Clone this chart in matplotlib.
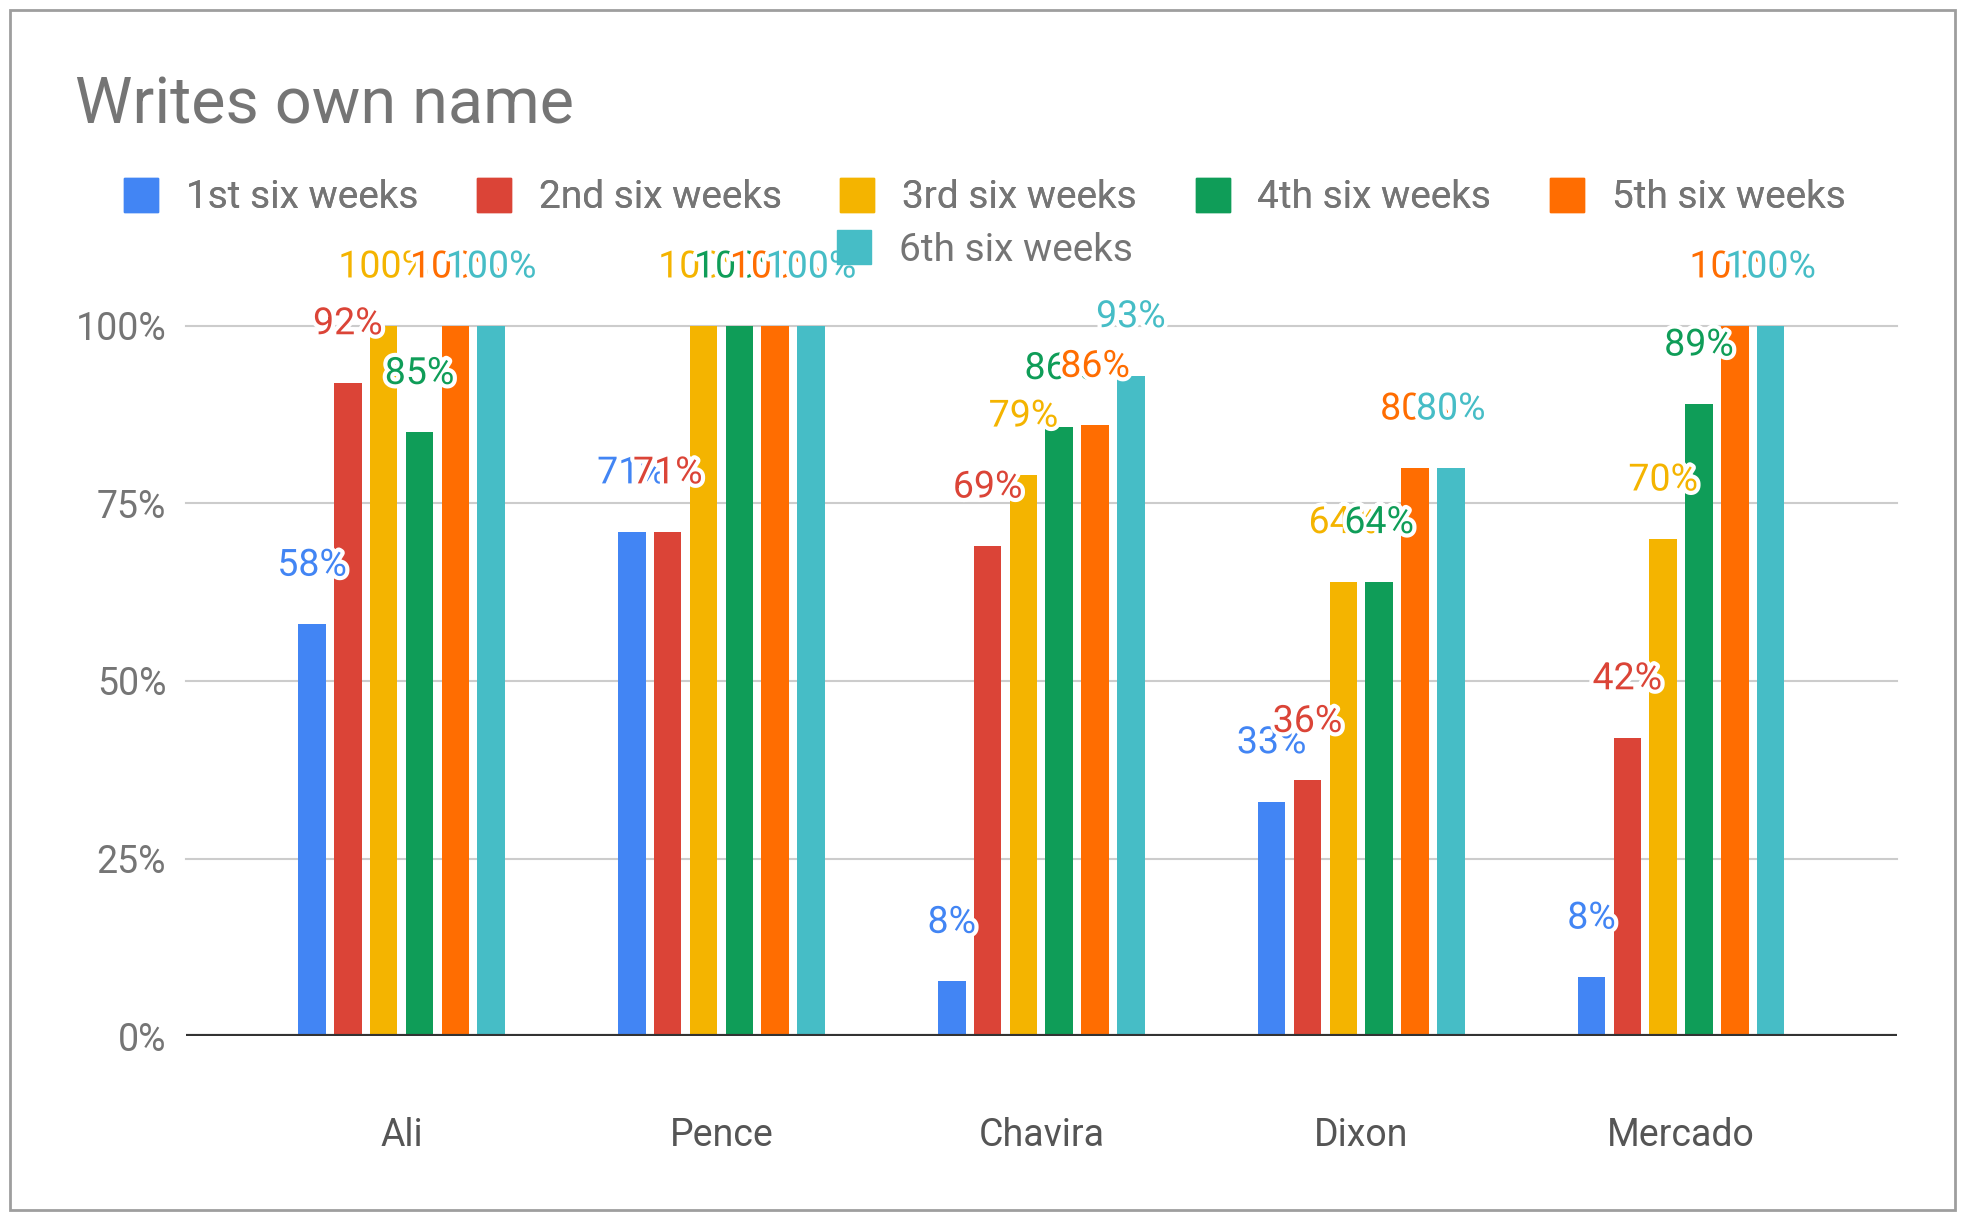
import matplotlib.pyplot as plt
import matplotlib.patheffects as pe
from matplotlib.lines import Line2D
from matplotlib.patches import Rectangle
import numpy as np

# chart data
students = ['Ali', 'Pence', 'Chavira', 'Dixon', 'Mercado']
series_names = ['1st six weeks', '2nd six weeks', '3rd six weeks',
                '4th six weeks', '5th six weeks', '6th six weeks']
week1 = [0.58, 0.71, 0.077, 0.33, 0.083]
week2 = [0.92, 0.71, 0.69, 0.36, 0.42]
week3 = [1.00, 1.00, 0.79, 0.64, 0.70]
week4 = [0.85, 1.00, 0.857, 0.64, 0.89]
week5 = [1.00, 1.00, 0.86, 0.80, 1.00]
week6 = [1.00, 1.00, 0.93, 0.80, 1.00]
y_ticks = [0, 0.25, 0.5, 0.75, 1.0]

colors = ['#4285F4', '#DB4437', '#F4B400', '#0F9D58', '#FF6D01', '#46BDC6']
all_series = [week1, week2, week3, week4, week5, week6]

plt.rcParams['font.family'] = ['Roboto', 'DejaVu Sans']

fig = plt.figure(figsize=(19.67, 12.14), dpi=100)
ax = fig.add_axes([0.0944, 0.1466, 0.87, 0.5849])

x = np.arange(len(students))
bar_w = 0.086
pitch = 0.112

for i, (vals, name, col) in enumerate(zip(all_series, series_names, colors)):
    pos = x + (i - 2.5) * pitch
    ax.bar(pos, vals, width=bar_w, color=col, zorder=3, label=name)
    for px, v in zip(pos, vals):
        t = ax.annotate(f'{v:.0%}', (px, v), xytext=(0, 59),
                        textcoords='offset pixels', ha='center', va='center',
                        fontsize=27, color=col, zorder=5, annotation_clip=False)
        t.set_path_effects([pe.withStroke(linewidth=6, foreground='white')])

# axes styling
ax.set_xlim(-0.675, 4.675)
ax.set_ylim(0, 1.0)
ax.set_yticks(y_ticks)
ax.set_yticklabels([f'{t:.0%}' for t in y_ticks])
ax.set_xticks(x)
ax.set_xticklabels(students)
for s in ax.spines.values():
    s.set_visible(False)
ax.tick_params(axis='y', length=0, pad=14, labelsize=27, labelcolor='#757575')
ax.tick_params(axis='x', length=0, pad=58, labelsize=27, labelcolor='#555555')
for t in y_ticks[1:]:
    ax.axhline(t, color='#cccccc', lw=1.5, zorder=1, clip_on=False)
ax.axhline(0, color='#333333', lw=3, zorder=4)

# title
fig.text(0.038, 0.898, 'Writes own name', fontsize=46.5, color='#757575',
         ha='left', va='baseline')

# legend: 5 items on first row, 6th centred below
handles = [Line2D([], [], marker='s', linestyle='none', markersize=25,
                  color=c) for c in colors]
leg1 = fig.legend(handles[:5], series_names[:5], loc='center',
                  bbox_to_anchor=(0.5, 0.837), ncol=5, frameon=False,
                  fontsize=28, labelcolor='#757575', handlelength=1.0,
                  handletextpad=0.65, columnspacing=1.45, borderpad=0)
fig.add_artist(leg1)
fig.legend(handles[5:], series_names[5:], loc='center',
           bbox_to_anchor=(0.5, 0.794), ncol=1, frameon=False,
           fontsize=28, labelcolor='#757575', handlelength=1.0,
           handletextpad=0.65, borderpad=0)

# chart border
fig.add_artist(Rectangle((0.005, 0.003), 0.989, 0.989, transform=fig.transFigure,
                         fill=False, edgecolor='#9e9e9e', lw=2))

fig.savefig('out.png', dpi=100)
